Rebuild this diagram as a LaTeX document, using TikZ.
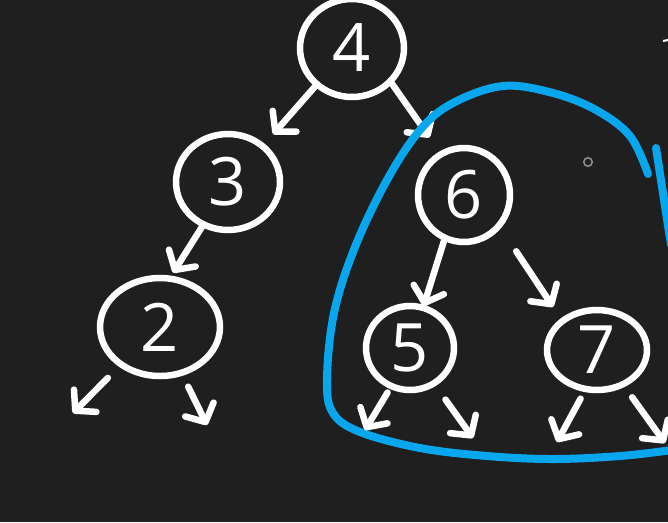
\documentclass[tikz,border=0pt]{standalone}
\usepackage{fontspec}
\newfontfamily\handfont{Open Sans}
\usetikzlibrary{shapes.geometric,arrows.meta}
\definecolor{board}{RGB}{31,31,31}
\definecolor{marker}{RGB}{8,166,236}
\tikzset{
  bubble/.style 2 args = {ellipse, draw=white, line width=0.13cm,
                minimum width=#1, minimum height=#2,
                inner sep=0pt, outer sep=0pt, text=white,
                font=\handfont\fontsize{38}{38}\selectfont},
  arr/.style = {draw=white, line width=0.13cm, line cap=round,
                -{Straight Barb[length=8pt,width=18pt,round]}}
}

\begin{document}
\begin{tikzpicture}[x=0.02cm, y=-0.02cm]
	\def \W{668}
	\def \H{522}
	\def \ink{0.16cm}

	\useasboundingbox (0,0) rectangle (\W,\H);
	\fill[board] (0,0) rectangle (\W,\H);
	\clip (0,0) rectangle (\W,\H);

	% Nodes
	\node[bubble={2.08cm}{1.96cm}] (n4) at (352,48)  {4};
	\node[bubble={2.08cm}{1.92cm}] (n3) at (228,182) {3};
	\node[bubble={2.40cm}{1.96cm}] (n2) at (160,327) {2};
	\node[bubble={1.84cm}{1.88cm}] (n6) at (464,195) {6};
	\node[bubble={1.76cm}{1.68cm}] (n5) at (410,348) {5};
	\node[bubble={2.00cm}{1.60cm}] (n7) at (597,350) {7};

	% Edges
	\draw[arr, shorten >=0.32cm] (n4.226) -- (n3.46);
	\draw[arr, shorten >=0.41cm] (n4.319) -- (n6.119);
	\draw[arr, shorten >=0.14cm] (n3.240) -- (n2.79);
	\draw[arr, shorten >=0.04cm] (n6.246) -- (n5.72);
	\draw[arr, shorten <=0.62cm, shorten >=0.34cm] (n6.319) -- (n7.140);

	% Leaves (empty children)
	\coordinate (l2a) at (73,413);
	\coordinate (l2b) at (207,425);
	\coordinate (l5a) at (365,430);
	\coordinate (l5b) at (473,438);
	\coordinate (l7a) at (557,442);
	\coordinate (l7b) at (665,443);
	\draw[arr, shorten <=0.38cm] (n2.224) -- (l2a);
	\draw[arr, shorten <=0.31cm] (n2.295) -- (l2b);

	% Subtree of 6 (blue marker)
	\draw[marker, line width=\ink, line cap=round] plot[smooth, tension=0.6] coordinates {
		(648,174) (630,136) (596,110) (553,93) (503,86) (453,103) (420,130)
		(387,180) (355,247) (334,313) (327,380) (333,413) (360,432)
		(420,448) (487,456) (553,459) (620,456) (672,450)};
	\draw[marker, line width=\ink, line cap=round] (656,148) -- (671,245);

	\draw[arr, shorten <=0.15cm] (n5.244) -- (l5a);
	\draw[arr, shorten <=0.40cm] (n5.304) -- (l5b);
	\draw[arr, shorten <=0.22cm] (n7.254) -- (l7a);
	\draw[arr, shorten <=0.32cm] (n7.307) -- (l7b);

	% Marks
	\draw[black!45!white, line width=0.9pt] (588,162) circle (0.085cm);
	\draw[white, line width=0.04cm] (663,41) -- (668,40);

\end{tikzpicture}
\end{document}
